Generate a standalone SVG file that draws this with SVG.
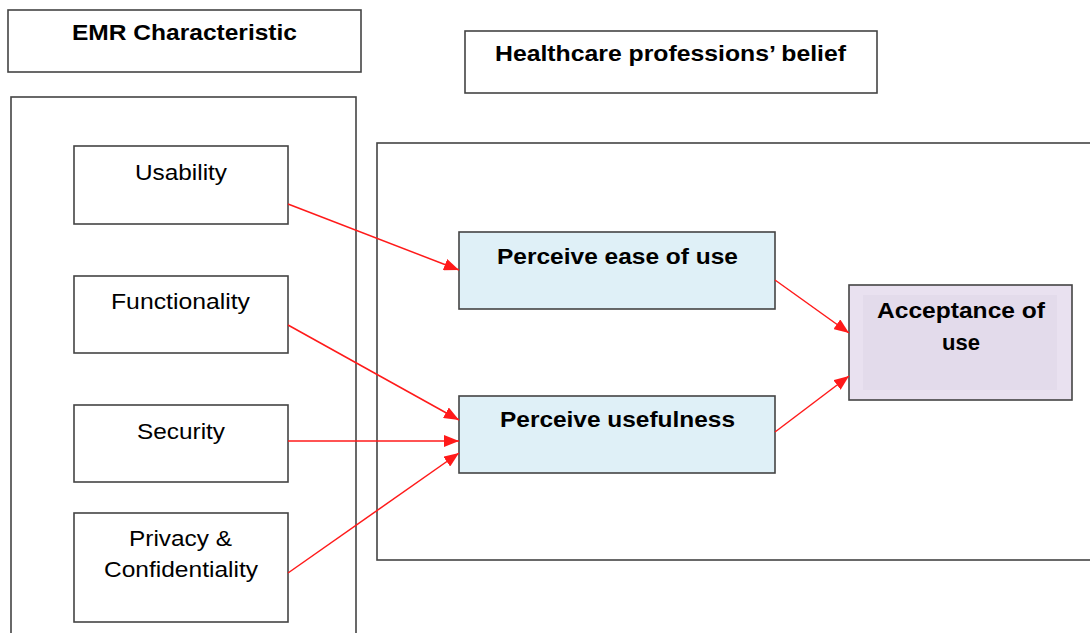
<svg xmlns="http://www.w3.org/2000/svg" width="1090" height="633" viewBox="0 0 1090 633">
  <style>
    .box { fill: #ffffff; stroke: #444444; stroke-width: 1.6; }
    .blue { fill: #dff0f7; stroke: #444444; stroke-width: 1.6; }
    .purple { fill: #e9e1f0; stroke: #444444; stroke-width: 1.6; }
    .inner { fill: #e3dbeb; stroke: none; }
    .title { font-family: "Liberation Sans", Arial, sans-serif; font-weight: bold; font-size: 22px; fill: #000; text-anchor: middle; }
    .label { font-family: "Liberation Sans", Arial, sans-serif; font-size: 22px; fill: #000; text-anchor: middle; }
    .link { stroke: #ff1a1a; stroke-width: 1.5; fill: none; marker-end: url(#arrow); }
  </style>
  <defs>
    <marker id="arrow" viewBox="0 0 15 12" refX="15" refY="6" markerWidth="15" markerHeight="12" markerUnits="userSpaceOnUse" orient="auto">
      <path d="M0,0 L15,6 L0,12 z" fill="#ff1a1a"/>
    </marker>
  </defs>
  <rect width="1090" height="633" fill="#ffffff"/>

  <!-- group frames -->
  <g id="emr-frame">
    <rect class="box" x="11" y="97" width="345" height="540"/>
  </g>
  <g id="belief-frame">
    <rect class="box" x="377" y="143" width="720" height="417"/>
  </g>

  <g id="emr-title">
    <rect class="box" x="8" y="10" width="353" height="62"/>
    <text class="title" x="184.5" y="40" textLength="225" lengthAdjust="spacingAndGlyphs">EMR Characteristic</text>
  </g>
  <g id="belief-title">
    <rect class="box" x="465" y="31" width="412" height="62"/>
    <text class="title" x="670.5" y="61" textLength="351" lengthAdjust="spacingAndGlyphs">Healthcare professions’ belief</text>
  </g>

  <g id="usability">
    <rect class="box" x="74" y="146" width="214" height="78"/>
    <text class="label" x="181" y="180" textLength="92" lengthAdjust="spacingAndGlyphs">Usability</text>
  </g>
  <g id="functionality">
    <rect class="box" x="74" y="276" width="214" height="77"/>
    <text class="label" x="180.5" y="309" textLength="139" lengthAdjust="spacingAndGlyphs">Functionality</text>
  </g>
  <g id="security">
    <rect class="box" x="74" y="405" width="214" height="77"/>
    <text class="label" x="181" y="439" textLength="88" lengthAdjust="spacingAndGlyphs">Security</text>
  </g>
  <g id="privacy">
    <rect class="box" x="74" y="513" width="214" height="109"/>
    <text class="label" x="180.5" y="546" textLength="103" lengthAdjust="spacingAndGlyphs">Privacy &amp;</text>
    <text class="label" x="181" y="577" textLength="154" lengthAdjust="spacingAndGlyphs">Confidentiality</text>
  </g>

  <g id="ease-of-use">
    <rect class="blue" x="459" y="232" width="316" height="77"/>
    <text class="title" x="617.5" y="264" textLength="241" lengthAdjust="spacingAndGlyphs">Perceive ease of use</text>
  </g>
  <g id="usefulness">
    <rect class="blue" x="459" y="396" width="316" height="77"/>
    <text class="title" x="617.5" y="427" textLength="235" lengthAdjust="spacingAndGlyphs">Perceive usefulness</text>
  </g>
  <g id="acceptance">
    <rect class="purple" x="849" y="285" width="223" height="115"/>
    <rect class="inner" x="863" y="295" width="194" height="95"/>
    <text class="title" x="961" y="318" textLength="168" lengthAdjust="spacingAndGlyphs">Acceptance of</text>
    <text class="title" x="961" y="350" textLength="38" lengthAdjust="spacingAndGlyphs">use</text>
  </g>

  <g id="connectors">
    <line class="link" x1="288" y1="204" x2="459" y2="270"/>
    <line class="link" x1="288" y1="325" x2="459" y2="420"/>
    <line class="link" x1="288" y1="441" x2="459" y2="441"/>
    <line class="link" x1="288" y1="573" x2="459" y2="453"/>
    <line class="link" x1="775" y1="280" x2="849" y2="333"/>
    <line class="link" x1="775" y1="432" x2="849" y2="376"/>
  </g>
</svg>
